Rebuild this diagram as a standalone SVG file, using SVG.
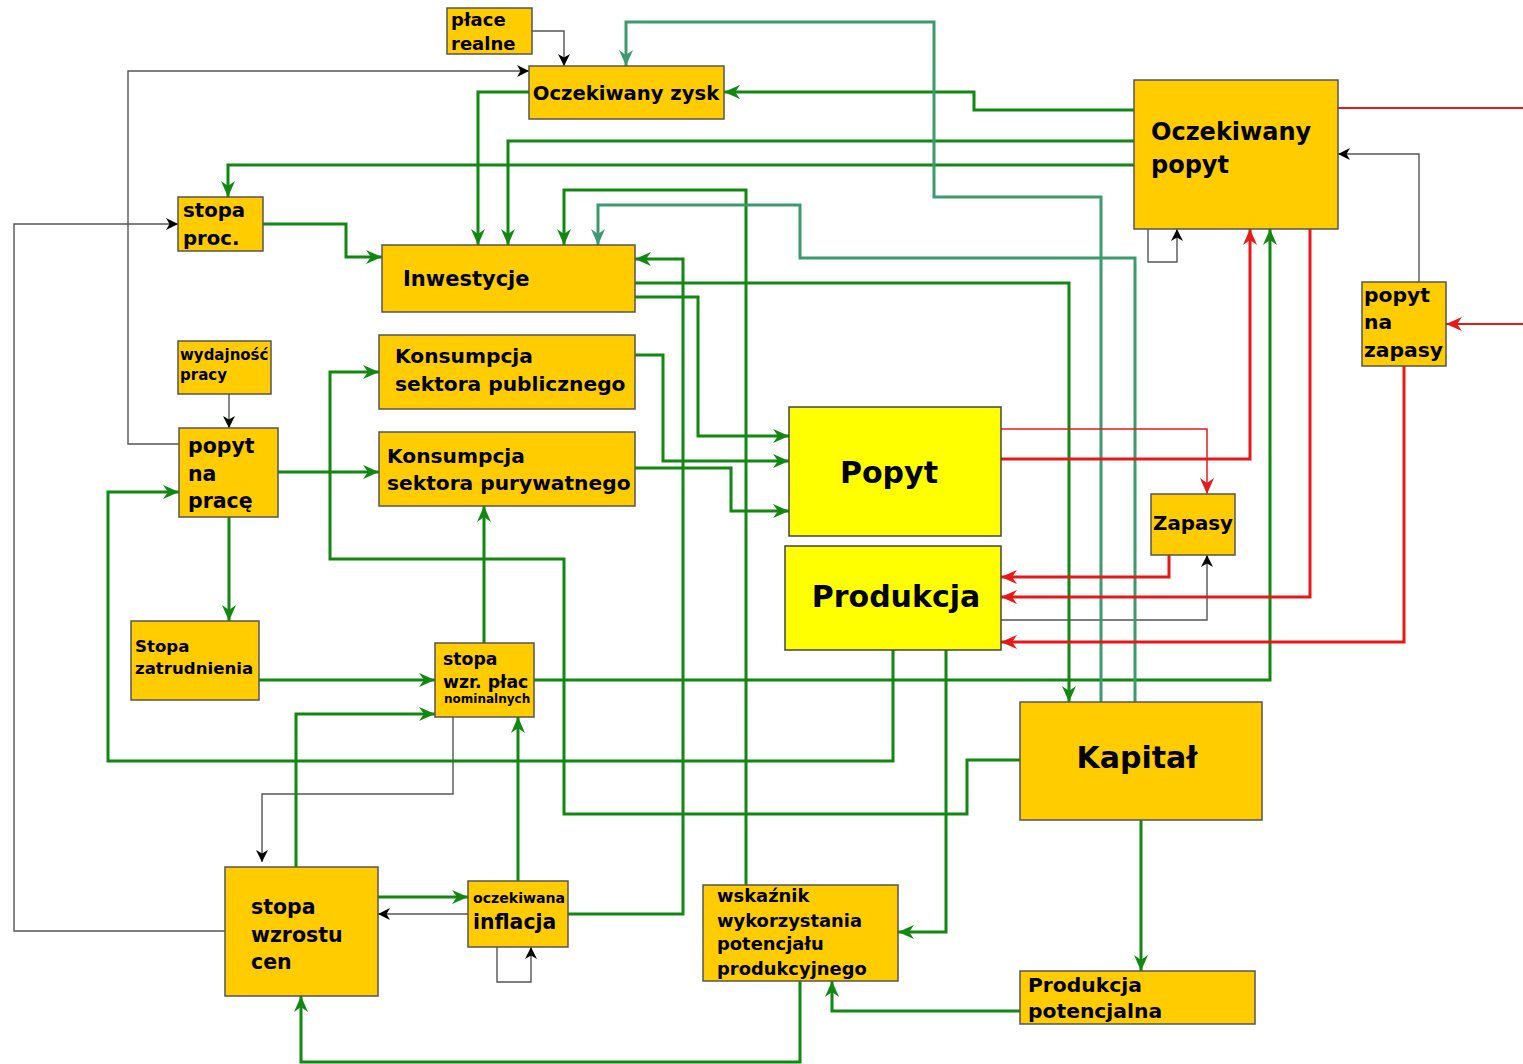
<svg xmlns="http://www.w3.org/2000/svg" width="1523" height="1064" viewBox="0 0 1523 1064">
<style>
.n rect{fill:#FFCC00;stroke:#555;stroke-width:1.5}
.n rect.y{fill:#FFFF00;stroke:#444}
.n text{font-family:"DejaVu Sans",Verdana,sans-serif;font-weight:bold;fill:#000}
.c path{fill:none}
.k{stroke:#555;stroke-width:1.4;marker-end:url(#ak)}
.g{stroke:#118811;stroke-width:3;marker-end:url(#ag)}
.t{stroke:#3D9A6E;stroke-width:3;marker-end:url(#at)}
.r{stroke:#E81818;stroke-width:3;marker-end:url(#ar)}
.r1{stroke:#E81818;stroke-width:1.5;marker-end:url(#ar)}
.r2{stroke:#E81818;stroke-width:2.2;marker-end:url(#ar)}
</style>
<defs>
<marker id="ak" markerUnits="userSpaceOnUse" markerWidth="12" markerHeight="12" viewBox="0 0 12 12" refX="12" refY="6" orient="auto"><path d="M0,0 L12,6 L0,12 L3.5,6 z" fill="#000"/></marker>
<marker id="ag" markerUnits="userSpaceOnUse" markerWidth="16" markerHeight="14" viewBox="0 0 16 14" refX="16" refY="7" orient="auto"><path d="M0,0 L16,7 L0,14 L5,7 z" fill="#118811"/></marker>
<marker id="at" markerUnits="userSpaceOnUse" markerWidth="16" markerHeight="14" viewBox="0 0 16 14" refX="16" refY="7" orient="auto"><path d="M0,0 L16,7 L0,14 L5,7 z" fill="#3D9A6E"/></marker>
<marker id="ar" markerUnits="userSpaceOnUse" markerWidth="16" markerHeight="14" viewBox="0 0 16 14" refX="16" refY="7" orient="auto"><path d="M0,0 L16,7 L0,14 L5,7 z" fill="#E81818"/></marker>
</defs>
<rect width="1523" height="1064" fill="#fff"/>
<g id="connectors" class="c">
<path class="k" d="M532,31 H564 V66"/>
<path class="k" d="M179,444 H128 V71 H529"/>
<path class="k" d="M225,931 H14 V224 H178"/>
<path class="k" d="M229,394 V428"/>
<path class="k" d="M1419,282 V154 H1338"/>
<path class="k" d="M1148,229 V262 H1177 V229"/>
<path class="k" d="M1001,620 H1207 V555"/>
<path class="k" d="M453,717 V794 H262 V862"/>
<path class="k" d="M468,914 H378"/>
<path class="k" d="M497,947 V982 H531 V947"/>
<path class="g" d="M1134,110 H974 V92 H724"/>
<path class="g" d="M529,92 H478 V245"/>
<path class="g" d="M1134,141 H508 V245"/>
<path class="g" d="M1134,165 H228 V197"/>
<path class="g" d="M263,224 H346 V257 H382"/>
<path class="g" d="M568,914 H683 V259 H635"/>
<path class="g" d="M635,297 H698 V436 H789"/>
<path class="g" d="M635,283 H1069 V702"/>
<path class="g" d="M1020,760 H967 V814 H564 V559 H330 V372 H379"/>
<path class="g" d="M893,650 V761 H108 V492 H179"/>
<path class="g" d="M946,650 V932 H898"/>
<path class="g" d="M278,472 H379"/>
<path class="g" d="M229,517 V621"/>
<path class="g" d="M259,680 H435"/>
<path class="g" d="M484,643 V506"/>
<path class="g" d="M534,680 H1270 V229"/>
<path class="g" d="M296,867 V714 H435"/>
<path class="g" d="M378,897 H468"/>
<path class="g" d="M518,881 V717"/>
<path class="g" d="M800,981 V1062 H301 V996"/>
<path class="g" d="M1020,1011 H832 V981"/>
<path class="g" d="M1141,820 V971"/>
<path class="g" d="M635,355 H663 V461 H789"/>
<path class="g" d="M635,468 H731 V511 H789"/>
<path class="g" d="M746,885 V190 H564 V245"/>
<path class="t" d="M1101,702 V197 H934 V22 H626 V66"/>
<path class="t" d="M1135,702 V258 H800 V205 H598 V245"/>
<path class="r2" d="M1338,108 H1560 V324 H1446"/>
<path class="r" d="M1001,459 H1250 V229"/>
<path class="r1" d="M1001,429 H1207 V494"/>
<path class="r" d="M1169,555 V577 H1001"/>
<path class="r" d="M1310,229 V597 H1001"/>
<path class="r" d="M1404,366 V642 H1001"/>
</g>
<g class="n">
<g id="place-realne"><rect x="447" y="8" width="85" height="46"/><text x="451" y="26" font-size="18">płace</text><text x="451" y="50" font-size="18">realne</text></g>
<g id="oczekiwany-zysk"><rect x="529" y="66" width="195" height="53"/><text x="626" y="100" font-size="19.6" text-anchor="middle">Oczekiwany zysk</text></g>
<g id="oczekiwany-popyt"><rect x="1134" y="80" width="204" height="149"/><text x="1151" y="140" font-size="24">Oczekiwany</text><text x="1151" y="173" font-size="24">popyt</text></g>
<g id="stopa-proc"><rect x="178" y="197" width="85" height="54"/><text x="183" y="217" font-size="19.7">stopa</text><text x="183" y="245" font-size="19.7">proc.</text></g>
<g id="inwestycje"><rect x="382" y="245" width="253" height="67"/><text x="403" y="286" font-size="21">Inwestycje</text></g>
<g id="wydajnosc-pracy"><rect x="178" y="341" width="93" height="53"/><text x="180" y="360" font-size="15">wydajność</text><text x="180" y="380" font-size="15">pracy</text></g>
<g id="konsumpcja-publiczna"><rect x="379" y="335" width="256" height="74"/><text x="395" y="363" font-size="20.2">Konsumpcja</text><text x="395" y="391" font-size="20.2">sektora publicznego</text></g>
<g id="konsumpcja-prywatna"><rect x="379" y="432" width="256" height="74"/><text x="387" y="463" font-size="20.2">Konsumpcja</text><text x="387" y="490" font-size="20.2">sektora purywatnego</text></g>
<g id="popyt-na-prace"><rect x="179" y="428" width="99" height="89"/><text x="188" y="453" font-size="20.5">popyt</text><text x="188" y="481" font-size="20.5">na</text><text x="188" y="508" font-size="20.5">pracę</text></g>
<g id="popyt"><rect class="y" x="789" y="407" width="212" height="129"/><text x="889" y="483" font-size="30" text-anchor="middle">Popyt</text></g>
<g id="produkcja"><rect class="y" x="785" y="546" width="216" height="104"/><text x="896" y="607" font-size="30" text-anchor="middle">Produkcja</text></g>
<g id="zapasy"><rect x="1151" y="494" width="84" height="61"/><text x="1193" y="530" font-size="19.8" text-anchor="middle">Zapasy</text></g>
<g id="popyt-na-zapasy"><rect x="1362" y="282" width="84" height="84"/><text x="1364" y="302" font-size="20.3">popyt</text><text x="1364" y="329" font-size="20.3">na</text><text x="1364" y="357" font-size="20.3">zapasy</text></g>
<g id="stopa-zatrudnienia"><rect x="131" y="621" width="128" height="79"/><text x="135" y="652" font-size="16.6">Stopa</text><text x="135" y="674" font-size="16.6">zatrudnienia</text></g>
<g id="stopa-wzr-plac"><rect x="435" y="643" width="99" height="74"/><text x="443" y="665" font-size="17.3">stopa</text><text x="443" y="688" font-size="17.3">wzr. płac</text><text x="444" y="703" font-size="12">nominalnych</text></g>
<g id="stopa-wzrostu-cen"><rect x="225" y="867" width="153" height="129"/><text x="251" y="914" font-size="20.5">stopa</text><text x="251" y="942" font-size="20.5">wzrostu</text><text x="251" y="969" font-size="20.5">cen</text></g>
<g id="oczekiwana-inflacja"><rect x="468" y="881" width="100" height="66"/><text x="473" y="903" font-size="14.1">oczekiwana</text><text x="473" y="929" font-size="20.4">inflacja</text></g>
<g id="wskaznik"><rect x="703" y="885" width="195" height="96"/><text x="717" y="902" font-size="17.9">wskaźnik</text><text x="717" y="927" font-size="17.9">wykorzystania</text><text x="717" y="950" font-size="17.9">potencjału</text><text x="717" y="975" font-size="17.9">produkcyjnego</text></g>
<g id="kapital"><rect x="1020" y="702" width="242" height="118"/><text x="1137" y="768" font-size="30" text-anchor="middle">Kapitał</text></g>
<g id="produkcja-potencjalna"><rect x="1020" y="971" width="235" height="53"/><text x="1028" y="992" font-size="20.3">Produkcja</text><text x="1028" y="1018" font-size="20.3">potencjalna</text></g>
</g>
</svg>
